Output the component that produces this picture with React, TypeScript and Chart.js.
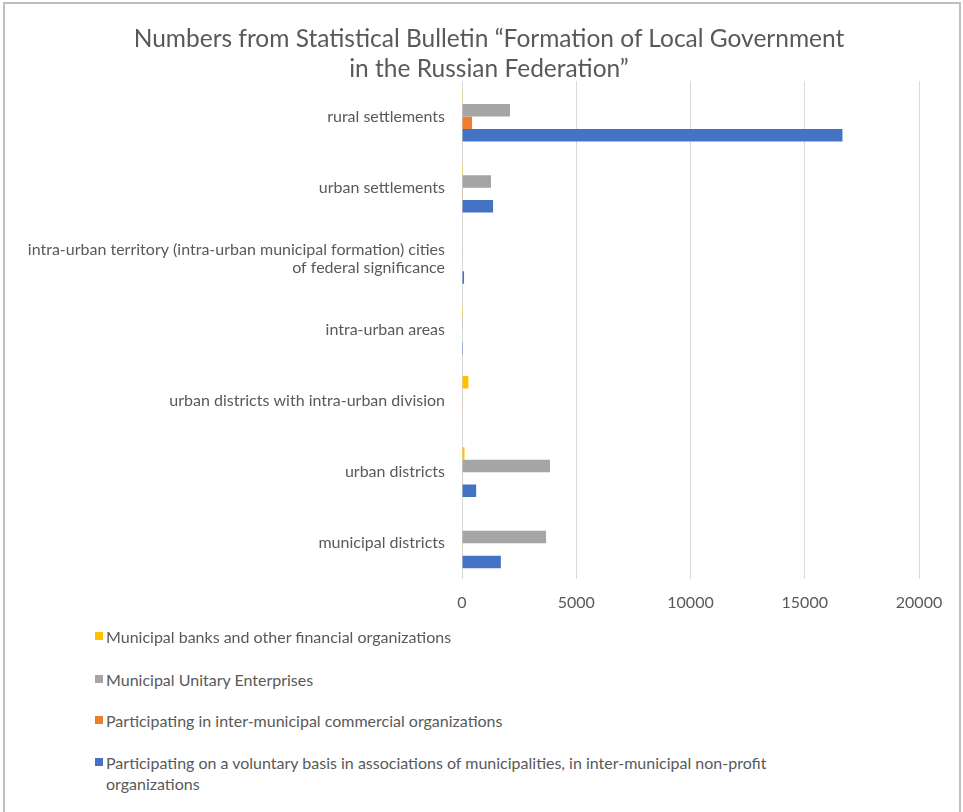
import React, { useEffect, useRef } from 'react';
import { Chart, registerables } from 'chart.js';
Chart.register(...registerables);

const titleLines = [
  'Numbers from Statistical Bulletin \u201CFormation of Local Government',
  'in the Russian Federation\u201D',
];

const categories: (string | string[])[] = [
  'rural settlements',
  'urban settlements',
  ['intra-urban territory (intra-urban municipal formation) cities', 'of federal significance'],
  'intra-urban areas',
  'urban districts with intra-urban division',
  'urban districts',
  'municipal districts',
];

const seriesNames = [
  'Municipal banks and other financial organizations',
  'Municipal Unitary Enterprises',
  'Participating in inter-municipal commercial organizations',
  'Participating on a voluntary basis in associations of municipalities, in inter-municipal non-profit organizations',
];

const seriesColors = ['#FFC000', '#A5A5A5', '#ED7D31', '#4472C4'];

const banks = [10, 5, 0, 5, 280, 110, 20];
const unitary = [2100, 1270, 30, 10, 30, 3850, 3680];
const commercial = [440, 10, 0, 0, 15, 15, 25];
const voluntary = [16650, 1360, 90, 40, 20, 620, 1700];

const xTicks = [0, 5000, 10000, 15000, 20000];

const FONT = 'Lato, "Open Sans", sans-serif';
const TEXT = '#595959';

export default function App() {
  const ref = useRef<HTMLCanvasElement>(null);
  useEffect(() => {
    const values = [banks, unitary, commercial, voluntary];
    const chart = new Chart(ref.current!, {
      type: 'bar',
      data: {
        labels: categories,
        datasets: seriesNames.map((name, i) => ({
          label: name,
          data: values[i],
          backgroundColor: seriesColors[i],
          borderWidth: 0,
          categoryPercentage: 0.7,
          barPercentage: 1.0,
        })),
      },
      options: {
        indexAxis: 'y',
        animation: false,
        responsive: false,
        maintainAspectRatio: false,
        layout: { padding: { left: 0, right: 44, top: 81, bottom: 8 } },
        plugins: {
          legend: { display: false },
          tooltip: { enabled: false },
          title: { display: false },
        },
        scales: {
          x: {
            min: xTicks[0],
            max: xTicks[xTicks.length - 1],
            ticks: {
              stepSize: 5000,
              color: TEXT,
              font: { family: FONT, size: 16 },
              padding: 14,
              callback: (v: any) => String(v),
            },
            grid: { color: '#d9d9d9', lineWidth: 1, drawTicks: false },
            border: { display: false },
          },
          y: {
            ticks: {
              color: TEXT,
              font: { family: FONT, size: 16, lineHeight: 1.15 },
              padding: 17,
            },
            grid: { display: false, drawTicks: false },
            border: { display: true, color: '#d9d9d9', width: 1 },
            afterFit: (s: any) => {
              s.width = 462;
            },
          },
        },
      },
    });
    return () => chart.destroy();
  }, []);

  const legendTops = [636, 679, 720, 762];

  return (
    <div
      style={{
        position: 'fixed',
        left: 0,
        top: 0,
        width: 963,
        height: 812,
        background: '#fff',
        overflow: 'hidden',
        fontFamily: FONT,
      }}
    >
      <div
        style={{
          position: 'absolute',
          left: 3,
          top: 2,
          width: 958,
          height: 830,
          borderLeft: '2px solid #bfbfbf',
          borderTop: '2px solid #bfbfbf',
          borderRight: '2px solid #bfbfbf',
          boxSizing: 'border-box',
        }}
      />
      <canvas
        ref={ref}
        width={963}
        height={634}
        style={{ position: 'absolute', left: 0, top: 0, display: 'block' }}
      />
      <div
        style={{
          position: 'absolute',
          left: 89,
          top: 23,
          width: 800,
          textAlign: 'center',
          fontSize: 24.5,
          lineHeight: '30px',
          color: TEXT,
          whiteSpace: 'nowrap',
        }}
      >
        {titleLines.map((l) => (
          <div key={l}>{l}</div>
        ))}
      </div>
      {seriesNames.map((name, i) => (
        <div
          key={name}
          style={{
            position: 'absolute',
            left: 95,
            top: legendTops[i] - 10,
            width: 720,
            display: 'flex',
            alignItems: 'flex-start',
            fontSize: 16,
            lineHeight: '21px',
            color: TEXT,
          }}
        >
          <span
            style={{
              display: 'inline-block',
              width: 8,
              height: 8,
              marginTop: 6,
              marginRight: 3,
              background: seriesColors[i],
              flex: '0 0 auto',
            }}
          />
          <span style={{ maxWidth: 690 }}>{name}</span>
        </div>
      ))}
    </div>
  );
}
